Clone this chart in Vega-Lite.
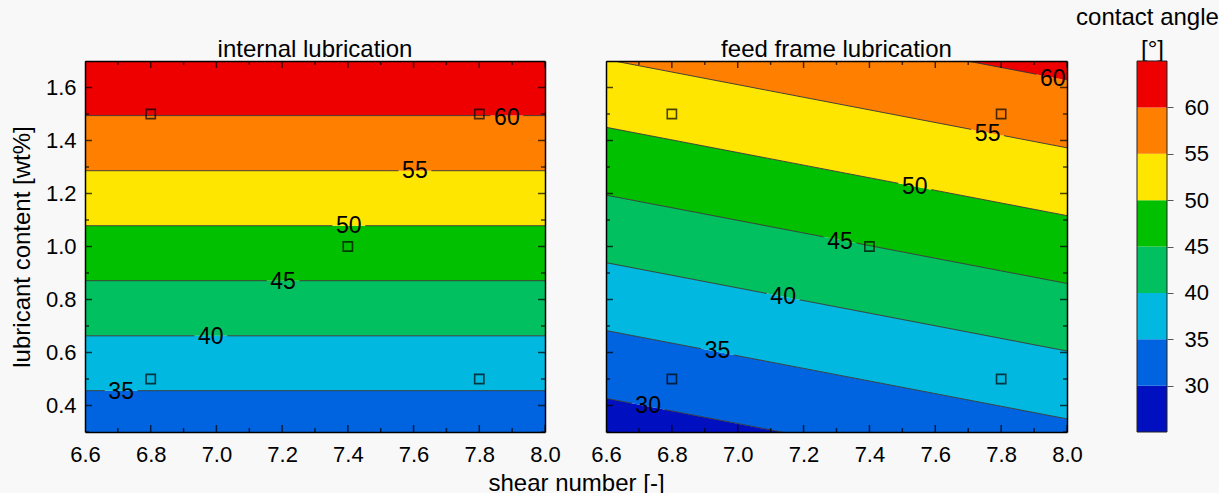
{
  "$schema": "https://vega.github.io/schema/vega-lite/v6.json",
  "background": "#f8f8f8",
  "padding": {"left": 10, "top": 6, "right": 0, "bottom": 0},
  "bounds": "flush",
  "spacing": 61,
  "config": {
    "font": "Liberation Sans",
    "view": {"stroke": null},
    "axis": {"labelFont": "Liberation Sans", "labelFontSize": 22, "labelColor": "black", "titleFont": "Liberation Sans", "titleFontSize": 24, "titleFontWeight": "normal", "titleColor": "black", "grid": false, "labelOverlap": false, "labelFlush": false, "labelBound": false, "minExtent": 0},
    "title": {"font": "Liberation Sans", "fontSize": 24, "fontWeight": "normal", "color": "black"},
    "text": {"font": "Liberation Sans"}
  },
  "datasets": {
    "bands": [
      {"p": "A", "band": 30, "x": 6.6, "lo": 0.248, "hi": 0.456}, {"p": "A", "band": 30, "x": 8.0, "lo": 0.248, "hi": 0.456},
      {"p": "A", "band": 35, "x": 6.6, "lo": 0.456, "hi": 0.663}, {"p": "A", "band": 35, "x": 8.0, "lo": 0.456, "hi": 0.663},
      {"p": "A", "band": 40, "x": 6.6, "lo": 0.663, "hi": 0.871}, {"p": "A", "band": 40, "x": 8.0, "lo": 0.663, "hi": 0.871},
      {"p": "A", "band": 45, "x": 6.6, "lo": 0.871, "hi": 1.0785}, {"p": "A", "band": 45, "x": 8.0, "lo": 0.871, "hi": 1.0785},
      {"p": "A", "band": 50, "x": 6.6, "lo": 1.0785, "hi": 1.286}, {"p": "A", "band": 50, "x": 8.0, "lo": 1.0785, "hi": 1.286},
      {"p": "A", "band": 55, "x": 6.6, "lo": 1.286, "hi": 1.494}, {"p": "A", "band": 55, "x": 8.0, "lo": 1.286, "hi": 1.494},
      {"p": "A", "band": 60, "x": 6.6, "lo": 1.494, "hi": 1.75}, {"p": "A", "band": 60, "x": 8.0, "lo": 1.494, "hi": 1.75},
      {"p": "B", "band": 25, "x": 6.6, "lo": 0.172, "hi": 0.427}, {"p": "B", "band": 25, "x": 8.0, "lo": -0.162, "hi": 0.0935},
      {"p": "B", "band": 30, "x": 6.6, "lo": 0.427, "hi": 0.683}, {"p": "B", "band": 30, "x": 8.0, "lo": 0.0935, "hi": 0.3495},
      {"p": "B", "band": 35, "x": 6.6, "lo": 0.683, "hi": 0.939}, {"p": "B", "band": 35, "x": 8.0, "lo": 0.3495, "hi": 0.6055},
      {"p": "B", "band": 40, "x": 6.6, "lo": 0.939, "hi": 1.194}, {"p": "B", "band": 40, "x": 8.0, "lo": 0.6055, "hi": 0.8605},
      {"p": "B", "band": 45, "x": 6.6, "lo": 1.194, "hi": 1.45}, {"p": "B", "band": 45, "x": 8.0, "lo": 0.8605, "hi": 1.1165},
      {"p": "B", "band": 50, "x": 6.6, "lo": 1.45, "hi": 1.706}, {"p": "B", "band": 50, "x": 8.0, "lo": 1.1165, "hi": 1.3725},
      {"p": "B", "band": 55, "x": 6.6, "lo": 1.706, "hi": 1.961}, {"p": "B", "band": 55, "x": 8.0, "lo": 1.3725, "hi": 1.6275},
      {"p": "B", "band": 60, "x": 6.6, "lo": 1.961, "hi": 2.217}, {"p": "B", "band": 60, "x": 8.0, "lo": 1.6275, "hi": 1.884}
    ],
    "lines": [
      {"p": "A", "v": 60, "x": 6.6, "y": 1.494, "x2": 7.834, "y2": 1.494}, {"p": "A", "v": 60, "x": 7.934, "y": 1.494, "x2": 8.0, "y2": 1.494},
      {"p": "A", "v": 55, "x": 6.6, "y": 1.286, "x2": 7.554, "y2": 1.286}, {"p": "A", "v": 55, "x": 7.654, "y": 1.286, "x2": 8.0, "y2": 1.286},
      {"p": "A", "v": 50, "x": 6.6, "y": 1.0785, "x2": 7.353, "y2": 1.0785}, {"p": "A", "v": 50, "x": 7.453, "y": 1.0785, "x2": 8.0, "y2": 1.0785},
      {"p": "A", "v": 45, "x": 6.6, "y": 0.871, "x2": 7.153, "y2": 0.871}, {"p": "A", "v": 45, "x": 7.253, "y": 0.871, "x2": 8.0, "y2": 0.871},
      {"p": "A", "v": 40, "x": 6.6, "y": 0.663, "x2": 6.933, "y2": 0.663}, {"p": "A", "v": 40, "x": 7.033, "y": 0.663, "x2": 8.0, "y2": 0.663},
      {"p": "A", "v": 35, "x": 6.6, "y": 0.456, "x2": 6.66, "y2": 0.456}, {"p": "A", "v": 35, "x": 6.76, "y": 0.456, "x2": 8.0, "y2": 0.456},
      {"p": "B", "v": 60, "x": 6.6, "y": 1.961, "x2": 7.907, "y2": 1.65},
      {"p": "B", "v": 55, "x": 6.6, "y": 1.706, "x2": 7.709, "y2": 1.442}, {"p": "B", "v": 55, "x": 7.809, "y": 1.418, "x2": 8.0, "y2": 1.3725},
      {"p": "B", "v": 50, "x": 6.6, "y": 1.45, "x2": 7.488, "y2": 1.2385}, {"p": "B", "v": 50, "x": 7.588, "y": 1.2147, "x2": 8.0, "y2": 1.1165},
      {"p": "B", "v": 45, "x": 6.6, "y": 1.194, "x2": 7.261, "y2": 1.0365}, {"p": "B", "v": 45, "x": 7.361, "y": 1.0127, "x2": 8.0, "y2": 0.8605},
      {"p": "B", "v": 40, "x": 6.6, "y": 0.939, "x2": 7.088, "y2": 0.8228}, {"p": "B", "v": 40, "x": 7.188, "y": 0.7989, "x2": 8.0, "y2": 0.6055},
      {"p": "B", "v": 35, "x": 6.6, "y": 0.683, "x2": 6.889, "y2": 0.6142}, {"p": "B", "v": 35, "x": 6.989, "y": 0.5903, "x2": 8.0, "y2": 0.3495},
      {"p": "B", "v": 30, "x": 6.6, "y": 0.427, "x2": 6.678, "y2": 0.4084}, {"p": "B", "v": 30, "x": 6.778, "y": 0.3846, "x2": 8.0, "y2": 0.0935}
    ],
    "labels": [
      {"p": "A", "t": "60", "x": 7.884, "y": 1.485}, {"p": "A", "t": "55", "x": 7.604, "y": 1.285},
      {"p": "A", "t": "50", "x": 7.403, "y": 1.077}, {"p": "A", "t": "45", "x": 7.203, "y": 0.866},
      {"p": "A", "t": "40", "x": 6.983, "y": 0.658}, {"p": "A", "t": "35", "x": 6.71, "y": 0.451},
      {"p": "B", "t": "60", "x": 7.957, "y": 1.633}, {"p": "B", "t": "55", "x": 7.759, "y": 1.426},
      {"p": "B", "t": "50", "x": 7.538, "y": 1.223}, {"p": "B", "t": "45", "x": 7.311, "y": 1.017},
      {"p": "B", "t": "40", "x": 7.138, "y": 0.809}, {"p": "B", "t": "35", "x": 6.939, "y": 0.6045},
      {"p": "B", "t": "30", "x": 6.728, "y": 0.397}
    ],
    "pts": [
      {"x": 6.8, "y": 1.5}, {"x": 7.8, "y": 1.5}, {"x": 7.4, "y": 1.0}, {"x": 6.8, "y": 0.5}, {"x": 7.8, "y": 0.5}
    ],
    "ticks": [
      {"ax": "x", "v": 6.6, "major": 1}, {"ax": "x", "v": 6.7, "major": 0}, {"ax": "x", "v": 6.8, "major": 1}, {"ax": "x", "v": 6.9, "major": 0},
      {"ax": "x", "v": 7.0, "major": 1}, {"ax": "x", "v": 7.1, "major": 0}, {"ax": "x", "v": 7.2, "major": 1}, {"ax": "x", "v": 7.3, "major": 0},
      {"ax": "x", "v": 7.4, "major": 1}, {"ax": "x", "v": 7.5, "major": 0}, {"ax": "x", "v": 7.6, "major": 1}, {"ax": "x", "v": 7.7, "major": 0},
      {"ax": "x", "v": 7.8, "major": 1}, {"ax": "x", "v": 7.9, "major": 0}, {"ax": "x", "v": 8.0, "major": 1},
      {"ax": "y", "v": 0.3, "major": 0}, {"ax": "y", "v": 0.4, "major": 1}, {"ax": "y", "v": 0.5, "major": 0}, {"ax": "y", "v": 0.6, "major": 1},
      {"ax": "y", "v": 0.7, "major": 0}, {"ax": "y", "v": 0.8, "major": 1}, {"ax": "y", "v": 0.9, "major": 0}, {"ax": "y", "v": 1.0, "major": 1},
      {"ax": "y", "v": 1.1, "major": 0}, {"ax": "y", "v": 1.2, "major": 1}, {"ax": "y", "v": 1.3, "major": 0}, {"ax": "y", "v": 1.4, "major": 1},
      {"ax": "y", "v": 1.5, "major": 0}, {"ax": "y", "v": 1.6, "major": 1}, {"ax": "y", "v": 1.7, "major": 0}
    ],
    "cbar": [
      {"band": 25, "hi": 30}, {"band": 30, "hi": 35}, {"band": 35, "hi": 40}, {"band": 40, "hi": 45},
      {"band": 45, "hi": 50}, {"band": 50, "hi": 55}, {"band": 55, "hi": 60}, {"band": 60, "hi": 65}
    ]
  },
  "hconcat": [
    {
      "width": 460, "height": 371,
      "title": {"text": "internal lubrication", "offset": -20, "baseline": "alphabetic"},
      "layer": [
        {
          "data": {"name": "bands"},
          "transform": [{"filter": "datum.p == 'A'"}],
          "mark": {"type": "area", "clip": true},
          "encoding": {
            "x": {"field": "x", "type": "quantitative", "scale": {"domain": [6.6, 8.0], "nice": false, "zero": false},
              "axis": {"orient": "bottom", "zindex": 1, "values": [6.6, 6.8, 7.0, 7.2, 7.4, 7.6, 7.8, 8.0], "format": ".1f", "ticks": false, "domainColor": "#000", "domainWidth": 1.5,
                "labelPadding": 12, "title": "shear number [-]", "titleX": 491, "titleY": 58, "titleAlign": "center", "titleBaseline": "alphabetic"}},
            "y": {"field": "lo", "type": "quantitative", "scale": {"domain": [0.3, 1.7], "nice": false, "zero": false},
              "axis": {"orient": "left", "zindex": 1, "values": [0.4, 0.6, 0.8, 1.0, 1.2, 1.4, 1.6], "format": ".1f", "ticks": false, "domainColor": "#000", "domainWidth": 1.5,
                "labelPadding": 9, "title": "lubricant content [wt%]", "titleX": -63, "titleBaseline": "middle"}},
            "y2": {"field": "hi"},
            "color": {"field": "band", "type": "ordinal", "legend": null,
              "scale": {"domain": [25, 30, 35, 40, 45, 50, 55, 60], "range": ["#0010c0", "#0064e0", "#00b8e0", "#00c060", "#00c000", "#ffe600", "#ff8000", "#ee0000"]}}
          }
        },
        {
          "data": {"name": "lines"},
          "transform": [{"filter": "datum.p == 'A'"}],
          "mark": {"type": "rule", "clip": true, "color": "#333333", "strokeWidth": 0.9},
          "encoding": {
            "x": {"field": "x", "type": "quantitative",
              "axis": {"orient": "top", "zindex": 1, "values": [6.6, 8.0], "labels": false, "ticks": false, "title": null, "domainColor": "#000", "domainWidth": 1.5}},
            "x2": {"field": "x2"},
            "y": {"field": "y", "type": "quantitative",
              "axis": {"orient": "right", "zindex": 1, "values": [0.4, 1.6], "labels": false, "ticks": false, "title": null, "domainColor": "#000", "domainWidth": 1.5}},
            "y2": {"field": "y2"}
          }
        },
        {
          "data": {"name": "pts"},
          "mark": {"type": "point", "shape": "square", "filled": false, "color": "black", "size": 85, "strokeWidth": 1.6},
          "encoding": {
            "x": {"field": "x", "type": "quantitative", "axis": null},
            "y": {"field": "y", "type": "quantitative", "axis": null}
          }
        },
        {
          "data": {"name": "labels"},
          "transform": [{"filter": "datum.p == 'A'"}],
          "mark": {"type": "text", "fontSize": 23, "color": "black", "align": "center", "baseline": "middle"},
          "encoding": {
            "x": {"field": "x", "type": "quantitative", "axis": null},
            "y": {"field": "y", "type": "quantitative", "axis": null},
            "text": {"field": "t"}
          }
        },
        {
          "data": {"name": "ticks"},
          "transform": [{"filter": "datum.ax == 'x'"}],
          "mark": {"type": "tick", "orient": "vertical", "clip": true, "color": "#000", "thickness": 1.5},
          "encoding": {
            "x": {"field": "v", "type": "quantitative", "axis": null},
            "y": {"datum": 0.3, "type": "quantitative", "axis": null},
            "size": {"field": "major", "type": "ordinal", "scale": {"domain": [0, 1], "range": [8, 14]}, "legend": null}
          }
        },
        {
          "data": {"name": "ticks"},
          "transform": [{"filter": "datum.ax == 'x'"}],
          "mark": {"type": "tick", "orient": "vertical", "clip": true, "color": "#000", "thickness": 1.5},
          "encoding": {
            "x": {"field": "v", "type": "quantitative", "axis": null},
            "y": {"datum": 1.7, "type": "quantitative", "axis": null},
            "size": {"field": "major", "type": "ordinal", "scale": {"domain": [0, 1], "range": [8, 14]}, "legend": null}
          }
        },
        {
          "data": {"name": "ticks"},
          "transform": [{"filter": "datum.ax == 'y'"}],
          "mark": {"type": "tick", "orient": "horizontal", "clip": true, "color": "#000", "thickness": 1.5},
          "encoding": {
            "y": {"field": "v", "type": "quantitative", "axis": null},
            "x": {"datum": 6.6, "type": "quantitative", "axis": null},
            "size": {"field": "major", "type": "ordinal", "scale": {"domain": [0, 1], "range": [8, 14]}, "legend": null}
          }
        },
        {
          "data": {"name": "ticks"},
          "transform": [{"filter": "datum.ax == 'y'"}],
          "mark": {"type": "tick", "orient": "horizontal", "clip": true, "color": "#000", "thickness": 1.5},
          "encoding": {
            "y": {"field": "v", "type": "quantitative", "axis": null},
            "x": {"datum": 8.0, "type": "quantitative", "axis": null},
            "size": {"field": "major", "type": "ordinal", "scale": {"domain": [0, 1], "range": [8, 14]}, "legend": null}
          }
        }
      ],
      "resolve": {"axis": {"x": "independent", "y": "independent"}}
    },
    {
      "width": 461, "height": 371,
      "title": {"text": "feed frame lubrication", "offset": -20, "baseline": "alphabetic"},
      "layer": [
        {
          "data": {"name": "bands"},
          "transform": [{"filter": "datum.p == 'B'"}],
          "mark": {"type": "area", "clip": true},
          "encoding": {
            "x": {"field": "x", "type": "quantitative", "scale": {"domain": [6.6, 8.0], "nice": false, "zero": false},
              "axis": {"orient": "bottom", "zindex": 1, "values": [6.6, 6.8, 7.0, 7.2, 7.4, 7.6, 7.8, 8.0], "format": ".1f", "ticks": false, "domainColor": "#000", "domainWidth": 1.5,
                "labelPadding": 12, "title": null}},
            "y": {"field": "lo", "type": "quantitative", "scale": {"domain": [0.3, 1.7], "nice": false, "zero": false},
              "axis": {"orient": "left", "zindex": 1, "values": [0.4, 1.6], "labels": false, "ticks": false, "title": null, "domainColor": "#000", "domainWidth": 1.5}},
            "y2": {"field": "hi"},
            "color": {"field": "band", "type": "ordinal", "legend": null,
              "scale": {"domain": [25, 30, 35, 40, 45, 50, 55, 60], "range": ["#0010c0", "#0064e0", "#00b8e0", "#00c060", "#00c000", "#ffe600", "#ff8000", "#ee0000"]}}
          }
        },
        {
          "data": {"name": "lines"},
          "transform": [{"filter": "datum.p == 'B'"}],
          "mark": {"type": "rule", "clip": true, "color": "#333333", "strokeWidth": 0.9},
          "encoding": {
            "x": {"field": "x", "type": "quantitative",
              "axis": {"orient": "top", "zindex": 1, "values": [6.6, 8.0], "labels": false, "ticks": false, "title": null, "domainColor": "#000", "domainWidth": 1.5}},
            "x2": {"field": "x2"},
            "y": {"field": "y", "type": "quantitative",
              "axis": {"orient": "right", "zindex": 1, "values": [0.4, 1.6], "labels": false, "ticks": false, "title": null, "domainColor": "#000", "domainWidth": 1.5}},
            "y2": {"field": "y2"}
          }
        },
        {
          "data": {"name": "pts"},
          "mark": {"type": "point", "shape": "square", "filled": false, "color": "black", "size": 85, "strokeWidth": 1.6},
          "encoding": {
            "x": {"field": "x", "type": "quantitative", "axis": null},
            "y": {"field": "y", "type": "quantitative", "axis": null}
          }
        },
        {
          "data": {"name": "labels"},
          "transform": [{"filter": "datum.p == 'B'"}],
          "mark": {"type": "text", "fontSize": 23, "color": "black", "align": "center", "baseline": "middle"},
          "encoding": {
            "x": {"field": "x", "type": "quantitative", "axis": null},
            "y": {"field": "y", "type": "quantitative", "axis": null},
            "text": {"field": "t"}
          }
        },
        {
          "data": {"name": "ticks"},
          "transform": [{"filter": "datum.ax == 'x'"}],
          "mark": {"type": "tick", "orient": "vertical", "clip": true, "color": "#000", "thickness": 1.5},
          "encoding": {
            "x": {"field": "v", "type": "quantitative", "axis": null},
            "y": {"datum": 0.3, "type": "quantitative", "axis": null},
            "size": {"field": "major", "type": "ordinal", "scale": {"domain": [0, 1], "range": [8, 14]}, "legend": null}
          }
        },
        {
          "data": {"name": "ticks"},
          "transform": [{"filter": "datum.ax == 'x'"}],
          "mark": {"type": "tick", "orient": "vertical", "clip": true, "color": "#000", "thickness": 1.5},
          "encoding": {
            "x": {"field": "v", "type": "quantitative", "axis": null},
            "y": {"datum": 1.7, "type": "quantitative", "axis": null},
            "size": {"field": "major", "type": "ordinal", "scale": {"domain": [0, 1], "range": [8, 14]}, "legend": null}
          }
        },
        {
          "data": {"name": "ticks"},
          "transform": [{"filter": "datum.ax == 'y'"}],
          "mark": {"type": "tick", "orient": "horizontal", "clip": true, "color": "#000", "thickness": 1.5},
          "encoding": {
            "y": {"field": "v", "type": "quantitative", "axis": null},
            "x": {"datum": 6.6, "type": "quantitative", "axis": null},
            "size": {"field": "major", "type": "ordinal", "scale": {"domain": [0, 1], "range": [8, 14]}, "legend": null}
          }
        },
        {
          "data": {"name": "ticks"},
          "transform": [{"filter": "datum.ax == 'y'"}],
          "mark": {"type": "tick", "orient": "horizontal", "clip": true, "color": "#000", "thickness": 1.5},
          "encoding": {
            "y": {"field": "v", "type": "quantitative", "axis": null},
            "x": {"datum": 8.0, "type": "quantitative", "axis": null},
            "size": {"field": "major", "type": "ordinal", "scale": {"domain": [0, 1], "range": [8, 14]}, "legend": null}
          }
        }
      ],
      "resolve": {"axis": {"x": "independent", "y": "independent"}}
    },
    {
      "width": 39, "height": 371,
      "data": {"name": "cbar"},
      "title": {"text": "contact angle", "offset": -12, "baseline": "alphabetic"},
      "layer": [
        {
          "mark": {"type": "rect"},
          "encoding": {
            "x": {"datum": 0, "type": "quantitative", "scale": {"domain": [-0.3, 1], "nice": false, "zero": false}, "axis": null},
            "x2": {"datum": 1},
            "y": {"field": "band", "type": "quantitative", "scale": {"domain": [25, 65], "nice": false, "zero": false},
              "axis": {"orient": "right", "values": [30, 35, 40, 45, 50, 55, 60], "tickSize": 6, "labelPadding": 11, "domain": false, "tickColor": "#555",
                "title": "[°]", "titleAngle": 0, "titleX": -15, "titleY": -5, "titleAlign": "center", "titleBaseline": "alphabetic"}},
            "y2": {"field": "hi"},
            "color": {"field": "band", "type": "ordinal", "legend": null,
              "scale": {"domain": [25, 30, 35, 40, 45, 50, 55, 60], "range": ["#0010c0", "#0064e0", "#00b8e0", "#00c060", "#00c000", "#ffe600", "#ff8000", "#ee0000"]}}
          }
        },
        {
          "mark": {"type": "rect", "fill": "transparent", "stroke": "#222", "strokeWidth": 1},
          "encoding": {
            "x": {"datum": 0, "type": "quantitative"},
            "x2": {"datum": 1},
            "y": {"aggregate": "min", "field": "band", "type": "quantitative"},
            "y2": {"aggregate": "max", "field": "hi"}
          }
        }
      ]
    }
  ]
}
